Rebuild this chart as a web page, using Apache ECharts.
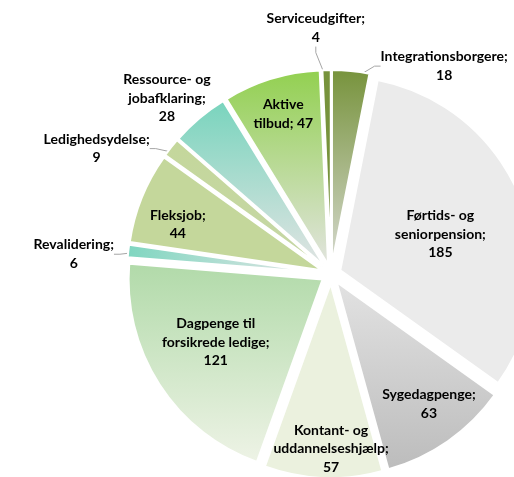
<!DOCTYPE html>
<html>
<head>
<meta charset="utf-8">
<script src="https://cdn.jsdelivr.net/npm/echarts@6/dist/echarts.min.js"></script>
<style>
  html, body { margin: 0; padding: 0; background: #fff; }
  #chart { width: 514px; height: 477px; }
</style>
</head>
<body>
<div id="chart"></div>
<script>
// Slices, clockwise from 12 o'clock
const categories = [
  'Integrationsborgere', 'Førtids- og seniorpension', 'Sygedagpenge',
  'Kontant- og uddannelseshjælp', 'Dagpenge til forsikrede ledige', 'Revalidering',
  'Fleksjob', 'Ledighedsydelse', 'Ressource- og jobafklaring', 'Aktive tilbud', 'Serviceudgifter'
];
const values = [18, 185, 63, 57, 121, 6, 44, 9, 28, 47, 4];
const labelTemplates = [
  'Integrationsborgere;\n{v}', 'Førtids- og\nseniorpension;\n{v}', 'Sygedagpenge;\n{v}',
  'Kontant- og\nuddannelseshjælp;\n{v}', 'Dagpenge til\nforsikrede ledige;\n{v}', 'Revalidering;\n{v}',
  'Fleksjob;\n{v}', 'Ledighedsydelse;\n{v}', 'Ressource- og\njobafklaring;\n{v}', 'Aktive\ntilbud; {v}', 'Serviceudgifter;\n{v}'
];

// styling: gradient stops (top/left -> bottom/right) per slice
const sliceColors = [
  ['#77933c', '#d6d9cf', 'v'], ['#ebebeb', '#ebebeb', 'v'], ['#e2e2e2', '#bcbcbc', 'v'],
  ['#ebf1de', '#ebf1de', 'v'], ['#b1daa9', '#eef3e6', 'v'], ['#7fd6c0', '#e6e6e6', 'h'],
  ['#c4d79b', '#c4d79b', 'v'], ['#c4d79b', '#c6d7a6', 'v'], ['#78d4bd', '#e2e4e3', 'v'],
  ['#92d050', '#e2e4df', 'v'], ['#77933c', '#77933c', 'v']
];
// label placement: [angle offset from slice middle in deg, distance as fraction of radius]
const labelPlace = [
  [-23, 1.22], [-1.6, 0.6], [2, 0.84], [2.2, 0.9], [-2.2, 0.69], [2.1, 1.33],
  [4, 0.83], [10.2, 1.37], [2.8, 1.24], [-0.4, 0.86], [2.3, 1.27]
];
const hasLeader = [true, false, false, false, false, true, false, true, false, false, true];

const CX = 331, CY = 274, R = 194;
const total = values.reduce((a, b) => a + b, 0);

const chart = echarts.init(document.getElementById('chart'));

const sliceData = categories.map((name, i) => {
  const [c0, c1, dir] = sliceColors[i];
  const grad = dir === 'h'
    ? new echarts.graphic.LinearGradient(0, 0, 1, 0, [{ offset: 0, color: c0 }, { offset: 1, color: c1 }])
    : new echarts.graphic.LinearGradient(0, 0, 0, 1, [{ offset: 0, color: c0 }, { offset: 1, color: c1 }]);
  return { name, value: values[i], selected: true, itemStyle: { color: grad } };
});

const labelData = categories.map((name, i) => ({
  name,
  value: values[i],
  labelLine: { show: hasLeader[i] }
}));

// mid angle (math convention, degrees) of each slice
const midAngles = [];
let cum = 0;
values.forEach((v) => {
  midAngles.push(90 - (cum + v / 2) / total * 360);
  cum += v;
});

chart.setOption({
  backgroundColor: '#fff',
  animation: false,
  series: [
    {
      // exploded slices
      type: 'pie',
      center: [CX, CY],
      radius: [0, R],
      startAngle: 90,
      clockwise: true,
      selectedMode: 'multiple',
      selectedOffset: 10,
      silent: true,
      data: sliceData,
      itemStyle: { borderColor: '#fff', borderWidth: 2 },
      select: { itemStyle: { borderColor: '#fff', borderWidth: 2 } },
      emphasis: { disabled: true },
      label: { show: false },
      labelLine: { show: false }
    },
    {
      // data labels
      type: 'pie',
      center: [CX, CY],
      radius: [0, R],
      startAngle: 90,
      clockwise: true,
      selectedMode: false,
      silent: true,
      avoidLabelOverlap: false,
      data: labelData,
      itemStyle: { color: 'rgba(0,0,0,0)', borderWidth: 0 },
      emphasis: { disabled: true },
      label: {
        position: 'outside',
        color: '#000',
        fontFamily: 'Lato',
        fontWeight: 'bold',
        fontSize: 14,
        lineHeight: 18.5,
        align: 'center',
        formatter: (p) => labelTemplates[p.dataIndex].replace('{v}', p.value)
      },
      labelLine: {
        length: 8,
        length2: 6,
        lineStyle: { color: '#a6a6a6', width: 1 }
      },
      labelLayout: (p) => {
        const i = p.dataIndex;
        const a = (midAngles[i] + labelPlace[i][0]) * Math.PI / 180;
        const d = labelPlace[i][1] * R;
        return {
          x: CX + Math.cos(a) * d,
          y: CY - Math.sin(a) * d,
          align: 'center',
          verticalAlign: 'middle'
        };
      }
    }
  ]
});
</script>
</body>
</html>
